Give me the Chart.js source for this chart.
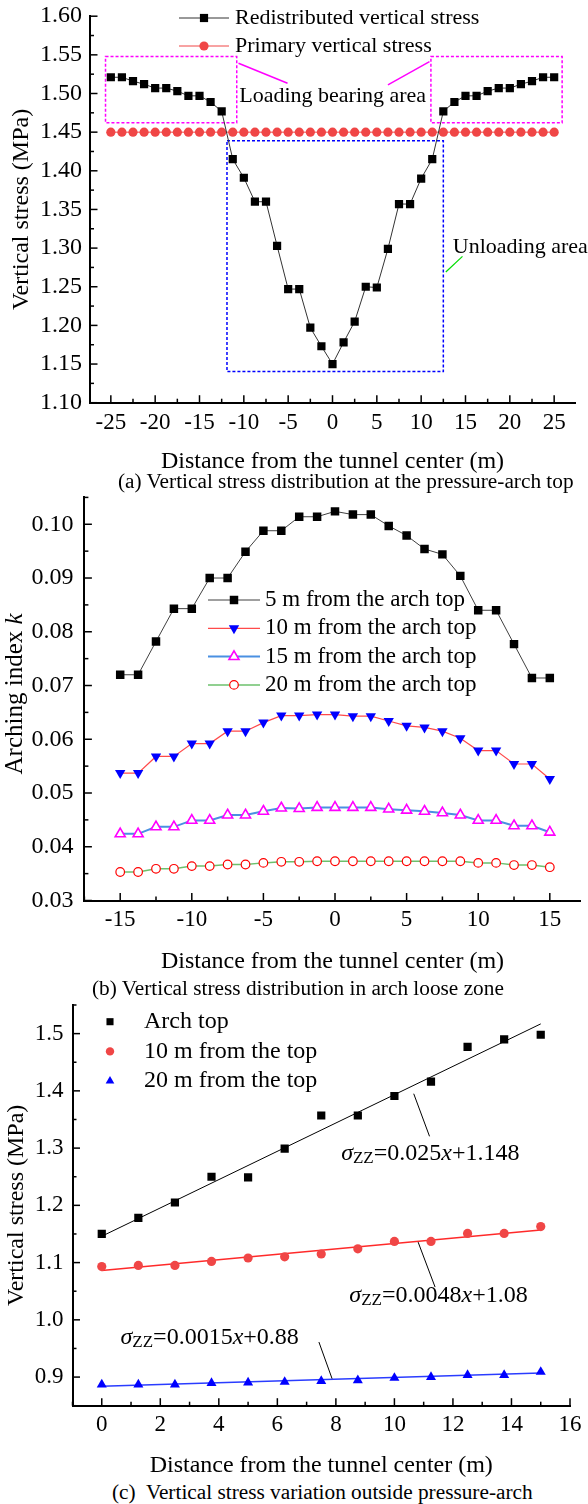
<!DOCTYPE html>
<html>
<head>
<meta charset="utf-8">
<script src="https://cdn.jsdelivr.net/npm/chart.js@4.4.0/dist/chart.umd.min.js"></script>
<style>
  html, body { margin: 0; padding: 0; background: #fff; }
  body { width: 588px; height: 1504px; position: relative; overflow: hidden; font-family: "Liberation Serif", "Times New Roman", serif; }
  .panel { position: absolute; left: 0; width: 588px; }
  .caption { position: absolute; font-size: 21.3px; line-height: 24px; white-space: nowrap; color: #000; }
</style>
</head>
<body>
<div class="panel" style="top:0;height:476px"><canvas id="chartA"></canvas></div>
<div class="panel" style="top:490px;height:486px"><canvas id="chartB"></canvas></div>
<div class="panel" style="top:995px;height:485px"><canvas id="chartC"></canvas></div>
<div class="caption" style="left:118px;top:469px">(a) Vertical stress distribution at the pressure-arch top</div>
<div class="caption" style="left:92px;top:976px">(b) Vertical stress distribution in arch loose zone</div>
<div class="caption" style="left:112px;top:1480px">(c)&nbsp; Vertical stress variation outside pressure-arch</div>
<script>
const FONT = '"Liberation Serif", "Times New Roman", serif';

// ---- (a) stress at the pressure-arch top ----
const distA = [-25, -23.75, -22.5, -21.25, -20, -18.75, -17.5, -16.25, -15, -13.75, -12.5, -11.25, -10, -8.75, -7.5, -6.25, -5, -3.75, -2.5, -1.25, 0,
  1.25, 2.5, 3.75, 5, 6.25, 7.5, 8.75, 10, 11.25, 12.5, 13.75, 15, 16.25, 17.5, 18.75, 20, 21.25, 22.5, 23.75, 25];
const redistributedA = [1.521, 1.521, 1.516, 1.512, 1.507, 1.507, 1.503, 1.497, 1.497, 1.489, 1.477, 1.415, 1.391, 1.360, 1.360, 1.303, 1.247, 1.247, 1.197, 1.173, 1.150,
  1.178, 1.205, 1.250, 1.249, 1.299, 1.357, 1.357, 1.390, 1.415, 1.477, 1.489, 1.497, 1.497, 1.503, 1.507, 1.507, 1.512, 1.516, 1.521, 1.521];
const primaryA = [1.45, 1.45, 1.45, 1.45, 1.45, 1.45, 1.45, 1.45, 1.45, 1.45, 1.45, 1.45, 1.45, 1.45, 1.45, 1.45, 1.45, 1.45, 1.45, 1.45, 1.45,
  1.45, 1.45, 1.45, 1.45, 1.45, 1.45, 1.45, 1.45, 1.45, 1.45, 1.45, 1.45, 1.45, 1.45, 1.45, 1.45, 1.45, 1.45, 1.45, 1.45];
const xTicksA = [-25, -20, -15, -10, -5, 0, 5, 10, 15, 20, 25];
const yTicksA = [1.10, 1.15, 1.20, 1.25, 1.30, 1.35, 1.40, 1.45, 1.50, 1.55, 1.60];

// ---- (b) arching index in the loose zone ----
const distB = [-15, -13.75, -12.5, -11.25, -10, -8.75, -7.5, -6.25, -5, -3.75, -2.5, -1.25, 0, 1.25, 2.5, 3.75, 5, 6.25, 7.5, 8.75, 10, 11.25, 12.5, 13.75, 15];
const k5B = [0.0720, 0.0720, 0.0782, 0.0843, 0.0843, 0.0900, 0.0900, 0.0949, 0.0988, 0.0988, 0.1014, 0.1014, 0.1024,
  0.1018, 0.1018, 0.0997, 0.0979, 0.0954, 0.0944, 0.0904, 0.0840, 0.0840, 0.0777, 0.0714, 0.0714];
const k10B = [0.0537, 0.0537, 0.0568, 0.0568, 0.0592, 0.0592, 0.0615, 0.0615, 0.0631, 0.0644, 0.0644, 0.0646, 0.0646,
  0.0643, 0.0643, 0.0634, 0.0625, 0.0622, 0.0615, 0.0602, 0.0579, 0.0579, 0.0554, 0.0554, 0.0526];
const k15B = [0.0424, 0.0424, 0.0437, 0.0437, 0.0449, 0.0449, 0.0459, 0.0459, 0.0466, 0.0472, 0.0471, 0.0473, 0.0473,
  0.0473, 0.0473, 0.0470, 0.0468, 0.0466, 0.0463, 0.0459, 0.0449, 0.0449, 0.0439, 0.0439, 0.0427];
const k20B = [0.0353, 0.0353, 0.0359, 0.0359, 0.0364, 0.0364, 0.0367, 0.0367, 0.0370, 0.0372, 0.0372, 0.0373, 0.0373,
  0.0373, 0.0373, 0.0373, 0.0373, 0.0373, 0.0373, 0.0373, 0.0370, 0.0370, 0.0366, 0.0366, 0.0362];
const xTicksB = [-15, -10, -5, 0, 5, 10, 15];
const yTicksB = [0.03, 0.04, 0.05, 0.06, 0.07, 0.08, 0.09, 0.10];

// ---- (c) stress outside the pressure arch ----
const distC = [0, 1.25, 2.5, 3.75, 5, 6.25, 7.5, 8.75, 10, 11.25, 12.5, 13.75, 15];
const archTopC = [1.150, 1.178, 1.205, 1.250, 1.249, 1.299, 1.357, 1.357, 1.391, 1.416, 1.477, 1.490, 1.498];
const top10C = [1.093, 1.095, 1.095, 1.102, 1.108, 1.110, 1.115, 1.124, 1.137, 1.137, 1.151, 1.151, 1.163];
const top20C = [0.887, 0.887, 0.887, 0.8895, 0.8905, 0.8915, 0.893, 0.8945, 0.8985, 0.900, 0.9035, 0.9035, 0.909];
const fitXC = [0, 15];
const archFitC = [1.146, 1.517];
const top10FitC = [1.086, 1.157];
const top20FitC = [0.884, 0.907];
const xTicksC = [0, 2, 4, 6, 8, 10, 12, 14, 16];
const yTicksC = [0.9, 1.0, 1.1, 1.2, 1.3, 1.4, 1.5];

const pts = (xs, ys) => xs.map((x, i) => ({ x: x, y: ys[i] }));

function axis(min, max, ticks, o) {
  return {
    type: 'linear', min: min, max: max,
    grid: { display: false, drawTicks: false },
    border: { display: true, color: '#000', width: 2 },
    afterBuildTicks: s => { s.ticks = ticks.map(v => ({ value: v })); },
    afterFit: s => {
      if (o.width != null) s.width = o.width;
      if (o.height != null) s.height = o.height;
      // labels never sit on the axis ends, so no edge padding is wanted
      s.paddingTop = 0; s.paddingBottom = 0; s.paddingLeft = 0; s.paddingRight = 0;
    },
    ticks: { color: '#000', font: { family: FONT, size: o.size }, padding: o.pad, autoSkip: false, maxRotation: 0, callback: o.fmt },
    title: o.title
      ? { display: true, text: o.title, color: '#000', font: { family: FONT, size: 24 }, padding: o.titlePad }
      : { display: false }
  };
}

// inward major / minor tick marks, Origin style
const inwardTicks = {
  id: 'inwardTicks',
  afterDraw(chart) {
    const { ctx, chartArea: a } = chart;
    ctx.save();
    ctx.strokeStyle = '#000';
    ctx.lineWidth = 1.5;
    ['x', 'y'].forEach(id => {
      const s = chart.scales[id];
      const major = s.ticks.map(t => t.value);
      const half = (major[1] - major[0]) / 2;
      const eps = Math.abs(half) * 1e-6;
      const minor = [];
      major.forEach(m => [m - half, m + half].forEach(v => {
        if (v >= s.min - eps && v <= s.max + eps && !minor.some(u => Math.abs(u - v) < eps)) minor.push(v);
      }));
      const draw = (v, len) => {
        const p = s.getPixelForValue(v);
        ctx.beginPath();
        if (id === 'x') { ctx.moveTo(p, a.bottom); ctx.lineTo(p, a.bottom - len); }
        else { ctx.moveTo(a.left, p); ctx.lineTo(a.left + len, p); }
        ctx.stroke();
      };
      major.forEach(v => draw(v, 7.5));
      minor.forEach(v => draw(v, 4));
    });
    ctx.restore();
  }
};

function marker(ctx, style, x, y, r, fill, stroke, lw, rot) {
  ctx.save();
  ctx.beginPath();
  if (style === 'rect') {
    const h = r * Math.SQRT1_2;
    ctx.rect(x - h, y - h, 2 * h, 2 * h);
  } else if (style === 'circle') {
    ctx.arc(x, y, r, 0, Math.PI * 2);
  } else {
    const a0 = (rot || 0) * Math.PI / 180;
    for (let k = 0; k < 3; k++) {
      const ang = a0 + k * 2 * Math.PI / 3;
      const px = x + Math.sin(ang) * r, py = y - Math.cos(ang) * r;
      if (k) ctx.lineTo(px, py); else ctx.moveTo(px, py);
    }
    ctx.closePath();
  }
  ctx.fillStyle = fill;
  ctx.fill();
  if (lw) { ctx.lineWidth = lw; ctx.strokeStyle = stroke; ctx.stroke(); }
  ctx.restore();
}

function legendRows(ctx, rows, o) {
  ctx.save();
  ctx.font = o.size + 'px ' + FONT;
  ctx.fillStyle = '#000';
  ctx.textBaseline = 'middle';
  rows.forEach((r, i) => {
    const y = o.y0 + i * o.dy;
    if (r.line) {
      ctx.strokeStyle = r.line;
      ctx.lineWidth = r.lw || 1;
      ctx.beginPath(); ctx.moveTo(o.x0, y); ctx.lineTo(o.x1, y); ctx.stroke();
    }
    marker(ctx, r.style, (o.x0 + o.x1) / 2, y, r.r, r.fill, r.stroke, r.blw, r.rot);
    ctx.fillStyle = '#000';
    ctx.fillText(r.text, o.tx, y);
  });
  ctx.restore();
}

// draw mixed text runs (italic letters, lowered subscripts)
function runs(ctx, parts, x, y) {
  ctx.save();
  ctx.textBaseline = 'alphabetic';
  ctx.fillStyle = '#000';
  let cx = x;
  parts.forEach(p => {
    ctx.font = (p.italic ? 'italic ' : '') + p.size + 'px ' + FONT;
    ctx.fillText(p.t, cx, y + (p.dy || 0));
    cx += ctx.measureText(p.t).width;
  });
  ctx.restore();
}

// ---------- chart (a) ----------
const annotA = {
  id: 'annotA',
  beforeDatasetsDraw(chart) {
    const { ctx, scales: { x, y } } = chart;
    const box = (x0, x1, y0, y1, c) => {
      ctx.strokeStyle = c;
      ctx.strokeRect(x.getPixelForValue(x0), y.getPixelForValue(y1),
        x.getPixelForValue(x1) - x.getPixelForValue(x0), y.getPixelForValue(y0) - y.getPixelForValue(y1));
    };
    ctx.save();
    ctx.lineWidth = 1.5;
    ctx.setLineDash([3, 2]);
    box(-25.6, -10.8, 1.462, 1.548, '#ff00ff');
    box(11.1, 25.9, 1.462, 1.548, '#ff00ff');
    box(-11.9, 12.5, 1.1403, 1.4388, '#0000ff');
    ctx.setLineDash([]);
    const seg = (ax, ay, bx, by, c, w) => {
      ctx.strokeStyle = c; ctx.lineWidth = w;
      ctx.beginPath();
      ctx.moveTo(x.getPixelForValue(ax), y.getPixelForValue(ay));
      ctx.lineTo(x.getPixelForValue(bx), y.getPixelForValue(by));
      ctx.stroke();
    };
    seg(-10.6, 1.5391, -5.07, 1.5133, '#ff00ff', 1.5);
    seg(10.94, 1.5412, 6.25, 1.5111, '#ff00ff', 1.5);
    seg(12.78, 1.2691, 14.66, 1.2893, '#00dd00', 1.2);
    ctx.restore();
  },
  afterDraw(chart) {
    const { ctx, scales: { x, y } } = chart;
    ctx.save();
    ctx.font = '22px ' + FONT;
    ctx.fillStyle = '#000';
    ctx.textBaseline = 'middle';
    ctx.fillText('Loading bearing area', x.getPixelForValue(-10.52), y.getPixelForValue(1.4963));
    ctx.fillText('Unloading area', x.getPixelForValue(13.57), y.getPixelForValue(1.3005));
    ctx.restore();
    legendRows(ctx, [
      { text: 'Redistributed vertical stress', line: '#333', lw: 1, style: 'rect', r: 5.8, fill: '#000', stroke: '#000', blw: 0 },
      { text: 'Primary vertical stress', line: '#f04646', lw: 1, style: 'circle', r: 4.6, fill: '#f04646', stroke: '#f04646', blw: 0 }
    ], { x0: 179, x1: 229, tx: 235, y0: 18, dy: 28, size: 22 });
  }
};

new Chart(document.getElementById('chartA'), {
  type: 'line',
  data: {
    datasets: [
      { label: 'Redistributed vertical stress', data: pts(distA, redistributedA), borderColor: '#333', borderWidth: 1,
        pointStyle: 'rect', pointRadius: 5.8, pointBackgroundColor: '#000', pointBorderColor: '#000', pointBorderWidth: 0 },
      { label: 'Primary vertical stress', data: pts(distA, primaryA), borderColor: '#f04646', borderWidth: 1,
        pointStyle: 'circle', pointRadius: 4.6, pointBackgroundColor: '#f04646', pointBorderColor: '#f04646', pointBorderWidth: 0 }
    ]
  },
  options: {
    responsive: true, maintainAspectRatio: false, animation: false,
    layout: { padding: { left: 0, right: 13, top: 16.2, bottom: 0 } },
    plugins: { legend: { display: false }, tooltip: { enabled: false } },
    scales: {
      x: axis(-27.35, 27.35, xTicksA, { height: 73.3, size: 23, pad: 6, fmt: v => String(v),
        title: 'Distance from the tunnel center (m)', titlePad: { top: 0, bottom: 0 } }),
      y: axis(1.10, 1.60, yTicksA, { width: 90, size: 24, pad: 8, fmt: v => v.toFixed(2),
        title: 'Vertical stress (MPa)', titlePad: { top: 7, bottom: 0 } })
    }
  },
  plugins: [annotA, inwardTicks]
});

// ---------- chart (b) ----------
const annotB = {
  id: 'annotB',
  afterDraw(chart) {
    const { ctx, chartArea: a } = chart;
    legendRows(ctx, [
      { text: '5 m from the arch top', line: '#404040', lw: 1, style: 'rect', r: 6, fill: '#000', stroke: '#000', blw: 0 },
      { text: '10 m from the arch top', line: '#ff4a4a', lw: 1.2, style: 'triangle', rot: 180, r: 6, fill: '#0000ff', stroke: '#0000ff', blw: 0 },
      { text: '15 m from the arch top', line: '#4a90e2', lw: 2, style: 'triangle', r: 5.8, fill: '#fff', stroke: '#ff00ff', blw: 1.6 },
      { text: '20 m from the arch top', line: '#6cc06c', lw: 1.5, style: 'circle', r: 4.3, fill: '#fff', stroke: '#ff0000', blw: 1.2 }
    ], { x0: 208, x1: 260, tx: 265, y0: 110, dy: 28.3, size: 23 });
    // y title with italic k
    ctx.save();
    ctx.translate(15, (a.top + a.bottom) / 2 - 5);
    ctx.rotate(-Math.PI / 2);
    ctx.textBaseline = 'middle';
    ctx.fillStyle = '#000';
    ctx.font = '25px ' + FONT;
    const w1 = ctx.measureText('Arching index ').width;
    ctx.font = 'italic 25px ' + FONT;
    const w2 = ctx.measureText('k').width;
    ctx.font = '25px ' + FONT;
    ctx.fillText('Arching index ', -(w1 + w2) / 2, 0);
    ctx.font = 'italic 25px ' + FONT;
    ctx.fillText('k', -(w1 + w2) / 2 + w1, 0);
    ctx.restore();
  }
};

new Chart(document.getElementById('chartB'), {
  type: 'line',
  data: {
    datasets: [
      { label: '5 m from the arch top', data: pts(distB, k5B), borderColor: '#404040', borderWidth: 1,
        pointStyle: 'rect', pointRadius: 6, pointBackgroundColor: '#000', pointBorderWidth: 0 },
      { label: '10 m from the arch top', data: pts(distB, k10B), borderColor: '#ff4a4a', borderWidth: 1.2,
        pointStyle: 'triangle', pointRotation: 180, pointRadius: 6, pointBackgroundColor: '#0000ff', pointBorderWidth: 0 },
      { label: '15 m from the arch top', data: pts(distB, k15B), borderColor: '#4a90e2', borderWidth: 2,
        pointStyle: 'triangle', pointRadius: 5.8, pointBackgroundColor: '#fff', pointBorderColor: '#ff00ff', pointBorderWidth: 1.6 },
      { label: '20 m from the arch top', data: pts(distB, k20B), borderColor: '#6cc06c', borderWidth: 1.5,
        pointStyle: 'circle', pointRadius: 4.3, pointBackgroundColor: '#fff', pointBorderColor: '#ff0000', pointBorderWidth: 1.2 }
    ]
  },
  options: {
    responsive: true, maintainAspectRatio: false, animation: false,
    layout: { padding: { left: 0, right: 0, top: 6.7, bottom: 0 } },
    plugins: { legend: { display: false }, tooltip: { enabled: false } },
    scales: {
      x: axis(-17.5, 17.15, xTicksB, { height: 75.5, size: 23, pad: 6, fmt: v => String(v),
        title: 'Distance from the tunnel center (m)', titlePad: { top: 0, bottom: 0 } }),
      y: axis(0.03, 0.105, yTicksB, { width: 84.4, size: 24, pad: 11, fmt: v => v.toFixed(2) })
    }
  },
  plugins: [annotB, inwardTicks]
});

// ---------- chart (c) ----------
const annotC = {
  id: 'annotC',
  afterDraw(chart) {
    const { ctx, scales: { x, y } } = chart;
    const seg = (ax, ay, bx, by) => {
      ctx.beginPath();
      ctx.moveTo(x.getPixelForValue(ax), y.getPixelForValue(ay));
      ctx.lineTo(x.getPixelForValue(bx), y.getPixelForValue(by));
      ctx.stroke();
    };
    ctx.save();
    ctx.strokeStyle = '#000';
    ctx.lineWidth = 1;
    seg(10.66, 1.395, 11.2, 1.3206);
    seg(10.81, 1.1358, 11.39, 1.0572);
    seg(7.42, 0.9612, 7.87, 0.8972);
    ctx.restore();
    const eq = (a, b, xv, yv) => runs(ctx, [
      { t: 'σ', italic: true, size: 24 },
      { t: 'ZZ', size: 17, dy: 3 },
      { t: '=' + a, size: 24 },
      { t: 'x', italic: true, size: 24 },
      { t: '+' + b, size: 24 }
    ], x.getPixelForValue(xv), y.getPixelForValue(yv) + 8);
    eq('0.025', '1.148', 8.18, 1.2935);
    eq('0.0048', '1.08', 8.46, 1.0444);
    eq('0.0015', '0.88', 0.64, 0.9712);
    legendRows(ctx, [
      { text: 'Arch top', style: 'rect', r: 5, fill: '#000', stroke: '#000', blw: 0 },
      { text: '10 m from the top', style: 'circle', r: 4.2, fill: '#f04646', stroke: '#f04646', blw: 0 },
      { text: '20 m from the top', style: 'triangle', r: 5, fill: '#0000ff', stroke: '#0000ff', blw: 0 }
    ], { x0: 110, x1: 110, tx: 144, y0: 26.7, dy: 29.7, size: 24 });
  }
};

new Chart(document.getElementById('chartC'), {
  type: 'line',
  data: {
    datasets: [
      { label: 'Arch top', data: pts(distC, archTopC), showLine: false,
        pointStyle: 'rect', pointRadius: 5.8, pointBackgroundColor: '#000', pointBorderWidth: 0 },
      { label: '10 m from the top', data: pts(distC, top10C), showLine: false,
        pointStyle: 'circle', pointRadius: 4.6, pointBackgroundColor: '#f04646', pointBorderWidth: 0 },
      { label: '20 m from the top', data: pts(distC, top20C), showLine: false,
        pointStyle: 'triangle', pointRadius: 5.8, pointBackgroundColor: '#0000ff', pointBorderWidth: 0 },
      { label: 'Arch top fit', data: pts(fitXC, archFitC), borderColor: '#000', borderWidth: 1, pointRadius: 0 },
      { label: '10 m fit', data: pts(fitXC, top10FitC), borderColor: '#ff2a2a', borderWidth: 1.5, pointRadius: 0 },
      { label: '20 m fit', data: pts(fitXC, top20FitC), borderColor: '#2a3cff', borderWidth: 1.5, pointRadius: 0 }
    ]
  },
  options: {
    responsive: true, maintainAspectRatio: false, animation: false,
    layout: { padding: { left: 0, right: 18, top: 10, bottom: 0 } },
    plugins: { legend: { display: false }, tooltip: { enabled: false } },
    scales: {
      x: axis(-1, 16, xTicksC, { height: 74.3, size: 23, pad: 5, fmt: v => String(v),
        title: 'Distance from the tunnel center (m)', titlePad: { top: 0, bottom: 0 } }),
      y: axis(0.85, 1.55, yTicksC, { width: 72.5, size: 23, pad: 9, fmt: v => v.toFixed(1),
        title: 'Vertical stress (MPa)', titlePad: { top: 2, bottom: 0 } })
    }
  },
  plugins: [annotC, inwardTicks]
});
</script>
</body>
</html>
